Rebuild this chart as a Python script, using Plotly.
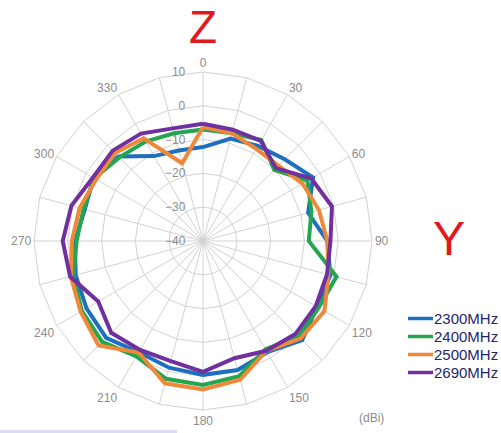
import plotly.graph_objects as go

# ---- data ----
angles = [str(a) for a in range(0, 360, 15)]
angle_labels = [a if int(a) % 30 == 0 else "" for a in angles]
series_names = ["2300MHz", "2400MHz", "2500MHz", "2690MHz"]
series_colors = ["#1f6fbf", "#22a64e", "#f0883a", "#7030a0"]

gain_2300 = [-12.2, -8.6, -7.5, -5.8, -2.4, -7.8, -3.2, -1.0, -1.0, 1.5, -2.0, -0.5,
             -0.4, -1.2, -2.0, 0.5, -0.2, -1.0, -2.1, -3.8, -2.6, -4.6, -11.0, -12.3]
gain_2400 = [-7.0, -7.0, -5.5, -10.2, -4.3, -6.8, -8.7, 0.9, -0.5, 0.0, -3.0, 1.4,
             2.6, 2.2, -0.6, 2.2, 1.4, -0.3, -2.6, -3.4, -2.9, -5.0, -6.0, -7.0]
gain_2500 = [-6.3, -7.0, -8.5, -8.5, -6.0, -4.5, -3.2, -1.6, 1.5, 0.8, -2.5, 2.5,
             3.9, 3.6, -1.9, 3.7, 1.8, 0.5, -1.2, -2.2, -3.5, -3.2, -4.9, -16.2]
gain_2690 = [-5.3, -5.9, -5.8, -9.5, -3.0, -0.5, -2.3, -2.0, -1.5, -1.2, -2.5, -4.1,
             -1.3, -3.2, -2.8, -1.6, -4.2, 0.7, 1.5, 0.3, -2.4, -2.2, -3.3, -5.5]
series_values = [gain_2300, gain_2400, gain_2500, gain_2690]

radial_ticks = [-40, -30, -20, -10, 0, 10]

W, H = 501, 433
grid = "#d2d2d2"
FONT = "Liberation Sans, Arial, sans-serif"
tick_font = dict(family=FONT, size=12, color="#8c8c8c")

fig = go.Figure()
for name, color, vals in zip(series_names, series_colors, series_values):
    fig.add_trace(go.Scatterpolar(
        r=vals + vals[:1],
        theta=angles + angles[:1],
        mode="lines",
        name=name,
        line=dict(color=color, width=4),
        showlegend=False,
        hoverinfo="skip",
    ))

fig.update_layout(
    width=W, height=H,
    margin=dict(l=0, r=0, t=0, b=0),
    paper_bgcolor="white",
    polar=dict(
        domain=dict(x=[34 / W, 372 / W], y=[1 - 410 / H, 1 - 72 / H]),
        bgcolor="white",
        gridshape="linear",
        angularaxis=dict(
            type="category",
            categoryarray=angles,
            rotation=90,
            direction="clockwise",
            tickmode="array",
            tickvals=angles,
            ticktext=angle_labels,
            ticks="",
            showline=True,
            linecolor=grid,
            linewidth=1,
            gridcolor=grid,
            gridwidth=1,
            tickfont=tick_font,
        ),
        radialaxis=dict(
            range=[radial_ticks[0], radial_ticks[-1]],
            tickmode="array",
            tickvals=radial_ticks,
            ticks="outside",
            ticklen=13,
            tickcolor="rgba(0,0,0,0)",
            angle=90,
            tickangle=90,
            side="counterclockwise",
            showline=False,
            gridcolor=grid,
            gridwidth=1,
            tickfont=tick_font,
        ),
    ),
)

# manual legend
legend_y = [318.5, 336.5, 354.5, 372.5]
for name, color, y in zip(series_names, series_colors, legend_y):
    fig.add_shape(type="line", xref="paper", yref="paper",
                  x0=408 / W, x1=433 / W, y0=1 - y / H, y1=1 - y / H,
                  line=dict(color=color, width=3.5))
    fig.add_annotation(x=432 / W, y=1 - y / H, xref="paper", yref="paper",
                       text=name, showarrow=False, xanchor="left", yanchor="middle",
                       font=dict(family=FONT, size=15, color="#25256a"))

# axis letters and unit
fig.add_annotation(x=203 / W, y=1 - 27 / H, xref="paper", yref="paper", text="Z",
                   showarrow=False, xanchor="center", yanchor="middle",
                   font=dict(family=FONT, size=46, color="#e0191c"))
fig.add_annotation(x=449 / W, y=1 - 238 / H, xref="paper", yref="paper", text="Y",
                   showarrow=False, xanchor="center", yanchor="middle",
                   font=dict(family=FONT, size=48, color="#e0191c"))
fig.add_annotation(x=357 / W, y=1 - 418 / H, xref="paper", yref="paper", text="(dBi)",
                   showarrow=False, xanchor="left", yanchor="middle",
                   font=dict(family=FONT, size=12, color="#8c8c8c"))

# faint band at bottom-left edge (as in the reference capture)
fig.add_shape(type="rect", xref="paper", yref="paper", x0=0, x1=177 / W, y0=0, y1=3 / H,
              fillcolor="#dcdcf2", line=dict(width=0), layer="below")

fig.write_html("out.html", config={"displayModeBar": False},
               post_script="document.body.style.margin='0';document.body.style.overflow='hidden';")
